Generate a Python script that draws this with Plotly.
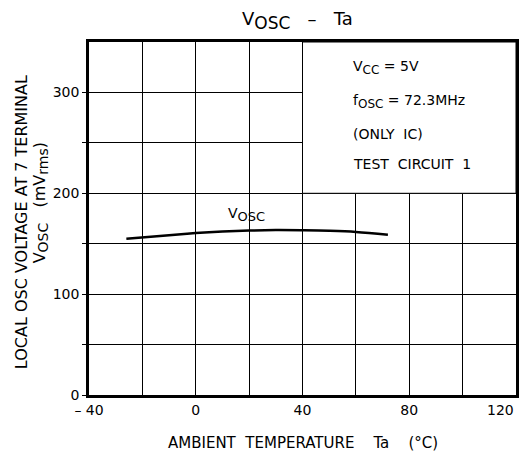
import plotly.graph_objects as go

temp_c = [-26, -10, 0, 10, 20, 30, 40, 50, 60, 72]
vosc_mv = [155, 158.5, 160.5, 162, 163, 163.5, 163.3, 162.8, 161.7, 159]

x_tick_vals = [-40, -20, 0, 20, 40, 60, 80, 100, 120]
x_tick_text = ["\u2013 40", "", "0", "", "40", "", "80", "", ""]
x_last_label = "120"
y_tick_vals = [0, 50, 100, 150, 200, 250, 300]
y_tick_text = ["0", "", "100", "", "200", "", "300"]

def sub(t, px):
    return '<sub><span style="font-size:%dpx">%s</span></sub>' % (px, t)

conditions = ["V" + sub("CC", 12) + " = 5V", "f" + sub("OSC", 12) + " = 72.3MHz", "(ONLY  IC)", "TEST  CIRCUIT  1"]
cond_y = [325, 291, 259, 229]

FONT = "DejaVu Sans"

fig = go.Figure()
fig.add_trace(go.Scatter(x=temp_c, y=vosc_mv, mode="lines", line=dict(color="black", width=2.5, shape="spline"),
                         hoverinfo="skip", showlegend=False))

fig.add_shape(type="rect", x0=40, x1=120, y0=200, y1=350, xref="x", yref="y",
              fillcolor="white", line=dict(color="black", width=1), layer="between")

for t, yy in zip(conditions, cond_y):
    fig.add_annotation(x=58, y=yy, xref="x", yref="y", text=t, showarrow=False, xanchor="left",
                       font=dict(size=14, color="black", family=FONT))

fig.add_annotation(x=19, y=179, xref="x", yref="y", text="V" + sub("OSC", 13), showarrow=False,
                   font=dict(size=14, color="black", family=FONT))

fig.add_annotation(x=120, y=0, xref="x", yref="y", yshift=-15, xanchor="right", yanchor="middle",
                   text=x_last_label, showarrow=False, font=dict(size=14, color="black", family=FONT))

fig.add_annotation(x=0.488, y=1.062, xref="paper", yref="paper", xanchor="center", yanchor="middle",
                   text="V" + sub("OSC", 17) + "   \u2013   Ta",
                   showarrow=False, font=dict(size=18, color="black", family=FONT))

fig.add_annotation(x=-0.159, y=0.49, xref="paper", yref="paper", xanchor="center", yanchor="middle",
                   text="LOCAL OSC VOLTAGE AT 7 TERMINAL",
                   textangle=-90, showarrow=False, font=dict(size=16, color="black", family=FONT))
fig.add_annotation(x=-0.113, y=0.545, xref="paper", yref="paper", xanchor="center", yanchor="middle",
                   text="V" + sub("OSC", 14) + "   (mV" + sub("rms", 14) + ")",
                   textangle=-90, showarrow=False, font=dict(size=16, color="black", family=FONT))

fig.add_annotation(x=0.5, y=-0.136, xref="paper", yref="paper", xanchor="center", yanchor="middle",
                   text="AMBIENT  TEMPERATURE    Ta    (\u00b0C)",
                   showarrow=False, font=dict(size=15, color="black", family=FONT))

fig.update_xaxes(range=[-40, 120], tickvals=x_tick_vals, ticktext=x_tick_text, showgrid=True, automargin=False,
                 gridcolor="black", gridwidth=1, showline=True, linecolor="black", linewidth=2.5, mirror=True,
                 ticks="", zeroline=False, tickfont=dict(size=14, color="black", family=FONT))
fig.update_yaxes(range=[0, 350], tickvals=y_tick_vals, ticktext=y_tick_text, showgrid=True, automargin=False,
                 gridcolor="black", gridwidth=1, showline=True, linecolor="black", linewidth=2.5, mirror=True,
                 ticks="outside", ticklen=4, tickcolor="black", zeroline=False,
                 tickfont=dict(size=14, color="black", family=FONT))

fig.update_layout(width=524, height=444, margin=dict(l=81, r=16, t=34, b=57),
                  plot_bgcolor="white", paper_bgcolor="white")

fig.write_html("out.html")
